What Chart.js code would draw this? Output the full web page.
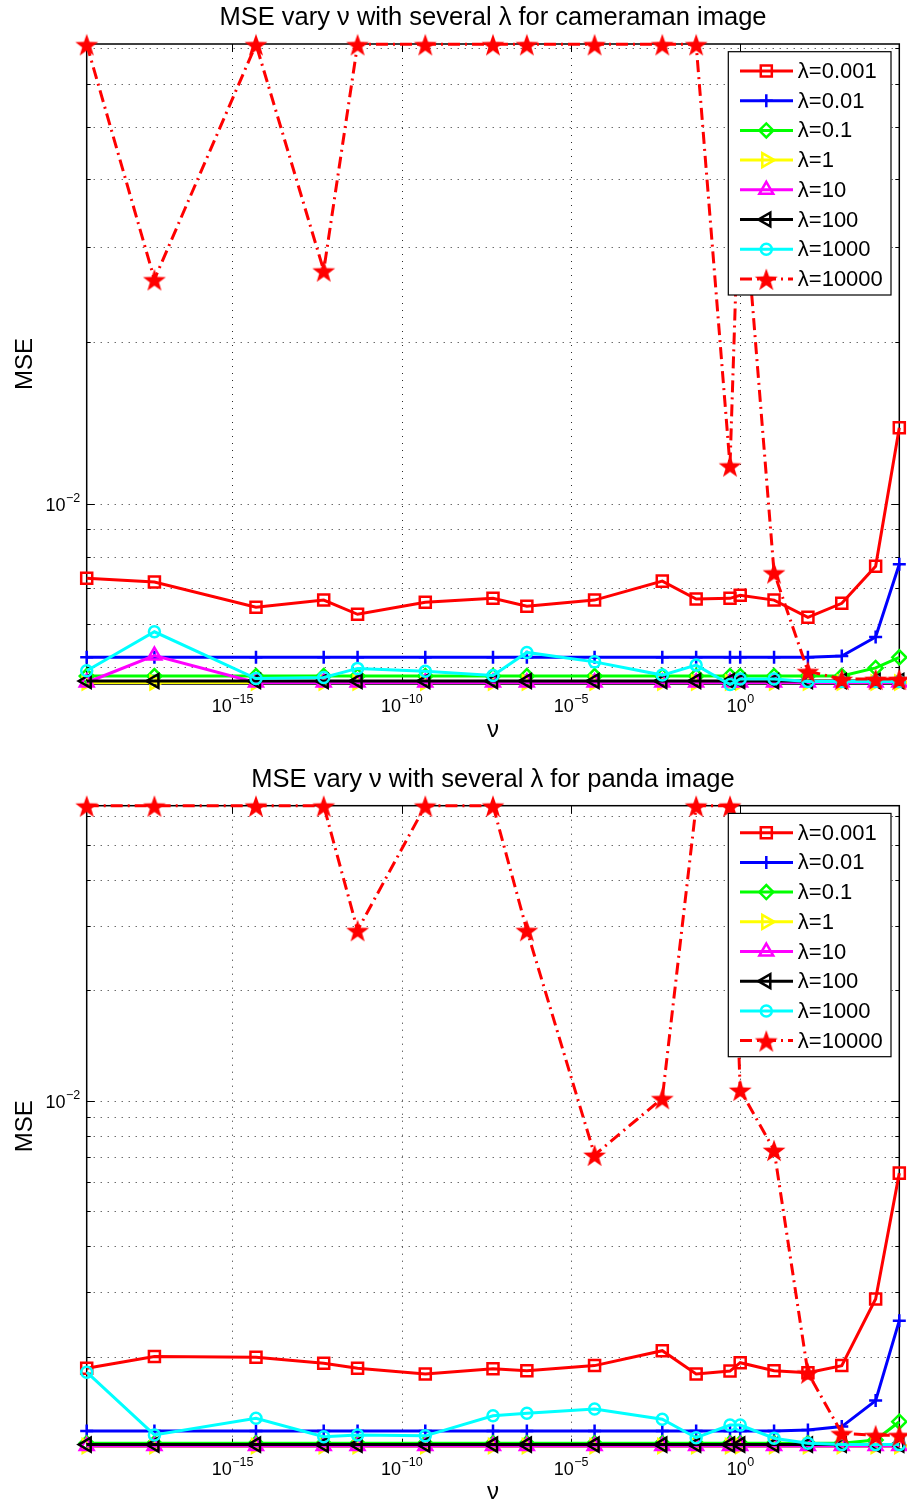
<!DOCTYPE html>
<html>
<head>
<meta charset="utf-8">
<script src="https://cdn.jsdelivr.net/npm/chart.js"></script>
<style>
  html, body { margin: 0; padding: 0; background: #fff; overflow: hidden; }
  #fig { position: relative; width: 907px; height: 1505px; }
  .panel { position: absolute; left: 0; width: 907px; }
  canvas { display: block; }
</style>
</head>
<body>
<div id="fig">
  <div class="panel" style="top:0;height:752px"><canvas id="cam" width="907" height="752"></canvas></div>
  <div class="panel" style="top:752px;height:753px"><canvas id="panda" width="907" height="753"></canvas></div>
</div>
<script>
// nu values (x axis, log)
const nuValues = [5e-20, 5e-18, 5e-15, 5e-13, 5e-12, 5e-10, 5e-8, 5e-7, 5e-5, 5e-3, 5e-2, 0.5, 1, 10, 100, 1000, 1e4, 5e4];
const lambdaLabels = ['\u03bb=0.001', '\u03bb=0.01', '\u03bb=0.1', '\u03bb=1', '\u03bb=10', '\u03bb=100', '\u03bb=1000', '\u03bb=10000'];
const xTickValues = [1e-15, 1e-10, 1e-5, 1];
const yLabelTicks = [1e-2];

// cameraman image
const camL0001 = [7.30e-3, 7.18e-3, 6.45e-3, 6.65e-3, 6.26e-3, 6.59e-3, 6.70e-3, 6.48e-3, 6.65e-3, 7.21e-3, 6.68e-3, 6.70e-3, 6.79e-3, 6.65e-3, 6.18e-3, 6.56e-3, 7.68e-3, 1.387e-2];
const camL001 = [5.21e-3, 5.21e-3, 5.21e-3, 5.21e-3, 5.21e-3, 5.21e-3, 5.21e-3, 5.21e-3, 5.21e-3, 5.21e-3, 5.21e-3, 5.21e-3, 5.21e-3, 5.21e-3, 5.21e-3, 5.24e-3, 5.68e-3, 7.75e-3];
const camL01 = [4.81e-3, 4.81e-3, 4.81e-3, 4.81e-3, 4.81e-3, 4.81e-3, 4.81e-3, 4.81e-3, 4.81e-3, 4.81e-3, 4.81e-3, 4.81e-3, 4.81e-3, 4.81e-3, 4.81e-3, 4.81e-3, 4.98e-3, 5.21e-3];
const camL1 = [4.68e-3, 4.68e-3, 4.68e-3, 4.68e-3, 4.68e-3, 4.68e-3, 4.68e-3, 4.68e-3, 4.68e-3, 4.68e-3, 4.68e-3, 4.68e-3, 4.68e-3, 4.68e-3, 4.68e-3, 4.68e-3, 4.68e-3, 4.68e-3];
const camL10 = [4.68e-3, 5.25e-3, 4.68e-3, 4.68e-3, 4.68e-3, 4.68e-3, 4.68e-3, 4.68e-3, 4.68e-3, 4.68e-3, 4.68e-3, 4.68e-3, 4.68e-3, 4.68e-3, 4.68e-3, 4.68e-3, 4.68e-3, 4.68e-3];
const camL100 = [4.71e-3, 4.71e-3, 4.71e-3, 4.71e-3, 4.71e-3, 4.71e-3, 4.71e-3, 4.71e-3, 4.71e-3, 4.71e-3, 4.71e-3, 4.71e-3, 4.71e-3, 4.71e-3, 4.71e-3, 4.71e-3, 4.71e-3, 4.71e-3];
const camL1000 = [4.92e-3, 5.81e-3, 4.76e-3, 4.78e-3, 4.97e-3, 4.91e-3, 4.82e-3, 5.32e-3, 5.11e-3, 4.83e-3, 5.04e-3, 4.64e-3, 4.75e-3, 4.75e-3, 4.70e-3, 4.70e-3, 4.70e-3, 4.70e-3];
const camL10000 = [0.0711, 0.0261, 0.0711, 0.0271, 0.0711, 0.0711, 0.0711, 0.0711, 0.0711, 0.0711, 0.0711, 0.0118, 0.045, 7.48e-3, 4.91e-3, 4.75e-3, 4.75e-3, 4.75e-3];

// panda image
const pandaL0001 = [1.858e-3, 2.0e-3, 1.992e-3, 1.919e-3, 1.858e-3, 1.793e-3, 1.853e-3, 1.83e-3, 1.89e-3, 2.076e-3, 1.793e-3, 1.826e-3, 1.925e-3, 1.83e-3, 1.807e-3, 1.89e-3, 2.874e-3, 6.34e-3];
const pandaL001 = [1.253e-3, 1.253e-3, 1.253e-3, 1.253e-3, 1.253e-3, 1.253e-3, 1.253e-3, 1.253e-3, 1.253e-3, 1.253e-3, 1.253e-3, 1.253e-3, 1.253e-3, 1.253e-3, 1.26e-3, 1.288e-3, 1.517e-3, 2.507e-3];
const pandaL01 = [1.16e-3, 1.16e-3, 1.16e-3, 1.16e-3, 1.16e-3, 1.16e-3, 1.16e-3, 1.16e-3, 1.16e-3, 1.16e-3, 1.16e-3, 1.16e-3, 1.16e-3, 1.16e-3, 1.16e-3, 1.16e-3, 1.184e-3, 1.328e-3];
const pandaL1 = [1.14e-3, 1.14e-3, 1.14e-3, 1.14e-3, 1.14e-3, 1.14e-3, 1.14e-3, 1.14e-3, 1.14e-3, 1.14e-3, 1.14e-3, 1.14e-3, 1.14e-3, 1.14e-3, 1.14e-3, 1.14e-3, 1.14e-3, 1.14e-3];
const pandaL10 = [1.14e-3, 1.14e-3, 1.14e-3, 1.14e-3, 1.14e-3, 1.14e-3, 1.14e-3, 1.14e-3, 1.14e-3, 1.14e-3, 1.14e-3, 1.14e-3, 1.14e-3, 1.14e-3, 1.14e-3, 1.14e-3, 1.14e-3, 1.14e-3];
const pandaL100 = [1.15e-3, 1.15e-3, 1.15e-3, 1.15e-3, 1.15e-3, 1.15e-3, 1.15e-3, 1.15e-3, 1.15e-3, 1.15e-3, 1.15e-3, 1.15e-3, 1.15e-3, 1.15e-3, 1.15e-3, 1.15e-3, 1.15e-3, 1.15e-3];
const pandaL1000 = [1.813e-3, 1.222e-3, 1.357e-3, 1.209e-3, 1.222e-3, 1.215e-3, 1.379e-3, 1.401e-3, 1.439e-3, 1.349e-3, 1.201e-3, 1.30e-3, 1.30e-3, 1.197e-3, 1.16e-3, 1.15e-3, 1.15e-3, 1.15e-3];
const pandaL10000 = [0.0639, 0.0639, 0.0639, 0.0639, 0.0292, 0.0639, 0.0639, 0.0292, 7.11e-3, 1.015e-2, 0.0639, 0.0639, 1.07e-2, 7.33e-3, 1.807e-3, 1.235e-3, 1.22e-3, 1.22e-3];

const FONT = '"Liberation Sans", Arial, Helvetica, sans-serif';

// filled pentagram marker (MATLAB 'p')
const starMarker = (() => {
    const c = document.createElement('canvas');
    const s = 26;
    c.width = s; c.height = s;
    const g = c.getContext('2d');
    g.fillStyle = '#ff0000';
    g.beginPath();
    for (let i = 0; i < 10; i++) {
        const r = i % 2 ? 4.8 : 12;
        const a = -Math.PI / 2 + i * Math.PI / 5;
        g.lineTo(s / 2 + r * Math.cos(a), s / 2 + 1.5 + r * Math.sin(a));
    }
    g.closePath();
    g.fill();
    return c;
})();

const seriesStyles = [
    { color: '#ff0000', pointStyle: 'rect', radius: 7.8, rotation: 0, dash: [] },
    { color: '#0000ff', pointStyle: 'cross', radius: 6.5, rotation: 0, dash: [] },
    { color: '#00ff00', pointStyle: 'rectRot', radius: 7, rotation: 0, dash: [] },
    { color: '#ffff00', pointStyle: 'triangle', radius: 8, rotation: 90, dash: [] },
    { color: '#ff00ff', pointStyle: 'triangle', radius: 8, rotation: 0, dash: [] },
    { color: '#000000', pointStyle: 'triangle', radius: 8, rotation: -90, dash: [] },
    { color: '#00ffff', pointStyle: 'circle', radius: 5.5, rotation: 0, dash: [] },
    { color: '#ff0000', pointStyle: starMarker, radius: 12, rotation: 0, dash: [12, 5, 2, 5] }
];

const supLabel = (ctx, v, x, y, align) => {
    const e = Math.round(Math.log10(v));
    const expStr = e < 0 ? '\u2212' + (-e) : String(e);
    ctx.font = '18px ' + FONT;
    const wb = ctx.measureText('10').width;
    ctx.font = '12.5px ' + FONT;
    const we = ctx.measureText(expStr).width;
    const w = wb + we;
    const left = align === 'right' ? x - w : x - w / 2;
    ctx.textAlign = 'left';
    ctx.textBaseline = 'alphabetic';
    ctx.font = '18px ' + FONT;
    ctx.fillText('10', left, y);
    ctx.font = '12.5px ' + FONT;
    ctx.fillText(expStr, left + wb + 0.5, y - 9);
};

const matlabAxes = {
    id: 'matlabAxes',
    beforeDatasetsDraw(chart) {
        const { ctx, chartArea: a, scales: { x, y } } = chart;
        ctx.save();
        // dotted grid
        ctx.strokeStyle = '#2a2a2a';
        ctx.lineWidth = 1;
        ctx.setLineDash([1, 6]);
        x.ticks.forEach(t => {
            const px = Math.round(x.getPixelForValue(t.value)) + 0.5;
            ctx.beginPath(); ctx.moveTo(px, a.top); ctx.lineTo(px, a.bottom); ctx.stroke();
        });
        y.ticks.forEach(t => {
            const py = Math.round(y.getPixelForValue(t.value)) + 0.5;
            ctx.beginPath(); ctx.moveTo(a.left, py); ctx.lineTo(a.right, py); ctx.stroke();
        });
        ctx.setLineDash([]);
        // inside tick marks
        ctx.strokeStyle = '#000';
        ctx.lineWidth = 1;
        x.ticks.forEach(t => {
            const px = Math.round(x.getPixelForValue(t.value)) + 0.5;
            ctx.beginPath();
            ctx.moveTo(px, a.bottom); ctx.lineTo(px, a.bottom - 8);
            ctx.moveTo(px, a.top); ctx.lineTo(px, a.top + 8);
            ctx.stroke();
        });
        y.ticks.forEach(t => {
            const py = Math.round(y.getPixelForValue(t.value)) + 0.5;
            const len = t.major ? 8 : 4;
            ctx.beginPath();
            ctx.moveTo(a.left, py); ctx.lineTo(a.left + len, py);
            ctx.moveTo(a.right, py); ctx.lineTo(a.right - len, py);
            ctx.stroke();
        });
        // box
        ctx.lineWidth = 1.5;
        ctx.strokeRect(a.left, a.top, a.right - a.left, a.bottom - a.top);
        ctx.restore();
    },
    afterDraw(chart, args, opts) {
        const { ctx, chartArea: a, scales: { x, y } } = chart;
        ctx.save();
        ctx.fillStyle = '#000';
        // tick labels
        x.ticks.forEach(t => supLabel(ctx, t.value, x.getPixelForValue(t.value), a.bottom + 28, 'center'));
        y.ticks.filter(t => t.major).forEach(t => supLabel(ctx, t.value, a.left - 7, y.getPixelForValue(t.value) + 7, 'right'));
        // title
        ctx.textAlign = 'center';
        ctx.textBaseline = 'middle';
        ctx.font = '25.5px ' + FONT;
        ctx.fillText(opts.title, (a.left + a.right) / 2, a.top - 26);
        // axis labels
        ctx.font = '24px ' + FONT;
        ctx.fillText('\u03bd', (a.left + a.right) / 2, a.bottom + 46);
        ctx.save();
        ctx.translate(25, (a.top + a.bottom) / 2);
        ctx.rotate(-Math.PI / 2);
        ctx.fillText('MSE', 0, 0);
        ctx.restore();
        // legend inside top right
        const bw = 162.7, bh = 243.3;
        const bx = a.right - 8.3 - bw, by = a.top + 7.7;
        ctx.fillStyle = '#fff';
        ctx.fillRect(bx, by, bw, bh);
        ctx.strokeStyle = '#000';
        ctx.lineWidth = 1.2;
        ctx.strokeRect(bx, by, bw, bh);
        chart.data.datasets.forEach((ds, i) => {
            const st = seriesStyles[i];
            const ly = by + 19.3 + i * 29.7;
            ctx.strokeStyle = st.color;
            ctx.lineWidth = 3;
            ctx.setLineDash(st.dash);
            ctx.beginPath(); ctx.moveTo(bx + 11.7, ly); ctx.lineTo(bx + 64.7, ly); ctx.stroke();
            ctx.setLineDash([]);
            ctx.lineWidth = 2.5;
            ctx.fillStyle = 'rgba(0,0,0,0)';
            Chart.helpers.drawPoint(ctx, { pointStyle: st.pointStyle, rotation: st.rotation, radius: st.radius, borderWidth: 2.5 }, bx + 38, ly);
            ctx.fillStyle = '#000';
            ctx.font = '22px ' + FONT;
            ctx.textAlign = 'left';
            ctx.textBaseline = 'middle';
            ctx.fillText(ds.label, bx + 69.5, ly + 1);
        });
        ctx.restore();
    }
};

const buildDatasets = (series) => series.map((vals, i) => {
    const st = seriesStyles[i];
    return {
        label: lambdaLabels[i],
        data: vals.map((v, k) => ({ x: nuValues[k], y: v })),
        borderColor: st.color,
        backgroundColor: st.color,
        borderWidth: 3,
        borderDash: st.dash,
        pointStyle: st.pointStyle,
        pointRadius: st.radius,
        pointRotation: st.rotation,
        pointBorderWidth: 2.5,
        pointBorderColor: st.color,
        pointBackgroundColor: 'rgba(0,0,0,0)',
        tension: 0,
        clip: false,
        order: series.length - 1 - i
    };
});

const makeChart = (canvasId, series, yMin, yMax, title, pad) => {
    const ctx = document.getElementById(canvasId).getContext('2d');
    return new Chart(ctx, {
        type: 'line',
        data: { datasets: buildDatasets(series) },
        options: {
            responsive: false,
            animation: false,
            devicePixelRatio: 1,
            layout: { padding: pad, autoPadding: false },
            plugins: {
                legend: { display: false },
                tooltip: { enabled: false },
                matlabAxes: { title: title }
            },
            scales: {
                x: {
                    type: 'logarithmic',
                    min: nuValues[0],
                    max: nuValues[nuValues.length - 1],
                    grid: { display: false },
                    border: { display: false },
                    ticks: { display: false },
                    afterBuildTicks: (scale) => {
                        scale.ticks = xTickValues.map(v => ({ value: v, major: true }));
                    },
                    afterFit: (scale) => { scale.height = 0; }
                },
                y: {
                    type: 'logarithmic',
                    min: yMin,
                    max: yMax,
                    grid: { display: false },
                    border: { display: false },
                    ticks: { display: false },
                    afterBuildTicks: (scale) => {
                        // 1..9 x 10^n inside the range, labelled decades flagged major
                        const ticks = [];
                        for (let e = Math.floor(Math.log10(yMin)); e <= Math.ceil(Math.log10(yMax)); e++) {
                            for (let m = 1; m <= 9; m++) {
                                const v = m * Math.pow(10, e);
                                if (v >= yMin && v <= yMax) ticks.push({ value: v, major: yLabelTicks.some(t => Math.abs(t - v) / t < 1e-9) || m === 1 });
                            }
                        }
                        scale.ticks = ticks;
                    },
                    afterFit: (scale) => { scale.width = 0; }
                }
            }
        },
        plugins: [matlabAxes]
    });
};

makeChart('cam',
    [camL0001, camL001, camL01, camL1, camL10, camL100, camL1000, camL10000],
    4.65e-3, 0.0712,
    'MSE vary \u03bd with several \u03bb for cameraman image',
    { left: 86.7, right: 7.7, top: 44, bottom: 68 });

makeChart('panda',
    [pandaL0001, pandaL001, pandaL01, pandaL1, pandaL10, pandaL100, pandaL1000, pandaL10000],
    1.135e-3, 0.0639,
    'MSE vary \u03bd with several \u03bb for panda image',
    { left: 86.7, right: 7.7, top: 53.7, bottom: 58.3 });
</script>
</body>
</html>
